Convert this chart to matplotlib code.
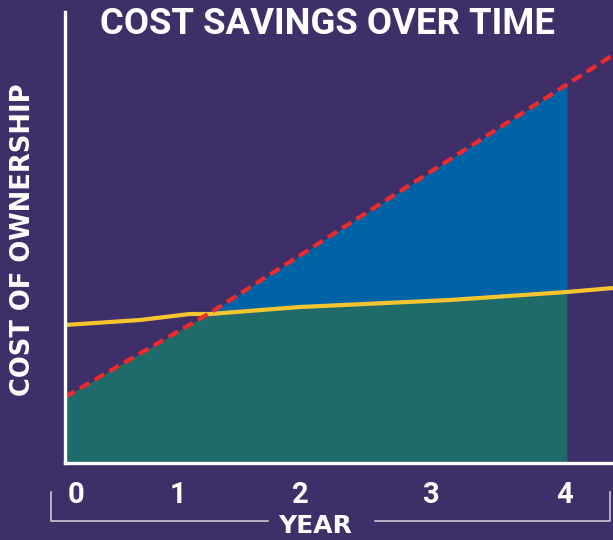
import numpy as np
import matplotlib
matplotlib.use("Agg")
import matplotlib.pyplot as plt
from matplotlib.lines import Line2D

# ---- data (arbitrary cost units) ----
red_years = [0.0, 1.155, 4.367]
red_cost = [0.66, 1.50, 4.08]
yellow_years = [0.0, 0.598, 0.996, 1.155, 1.873, 3.068, 4.0, 4.367]
yellow_cost = [1.38, 1.43, 1.49, 1.49, 1.56, 1.63, 1.71, 1.75]
fill_end_year = 4.0
tick_years = [0.084, 0.898, 1.879, 2.914, 3.98]
tick_labels = ["0", "1", "2", "3", "4"]

BG = "#3f2f68"
GREEN = "#1f6b6a"
BLUE = "#0063a6"
RED = "#ee2a2a"
YELLOW = "#f5c530"
FONT = "Roboto"

fig = plt.figure(figsize=(6.13, 5.40), dpi=100, facecolor=BG)
ax = fig.add_axes([65/613, 77/540, 1 - 65/613, (463 - 12)/540])
ax.set_facecolor(BG)

grid = np.linspace(0, fill_end_year, 800)
r = np.interp(grid, red_years, red_cost)
y = np.interp(grid, yellow_years, yellow_cost)
low = np.minimum(r, y)
ax.fill_between(grid, 0, low, color=GREEN, lw=0)
ax.fill_between(grid, y, r, where=r > y, interpolate=True, color=BLUE, lw=0)

ax.plot(yellow_years, yellow_cost, color=YELLOW, lw=3, solid_capstyle="butt")
ax.plot(red_years, red_cost, color=RED, lw=3, dashes=(2.65, 1.45), dash_capstyle="butt")

ax.set_xlim(0, 4.367)
ax.set_ylim(0, 4.51)
ax.set_yticks([])
ax.set_xticks(tick_years)
ax.set_xticklabels(tick_labels, fontfamily=FONT, fontweight="bold", fontsize=21, color="white")
ax.tick_params(axis="x", length=0, pad=13)
for s in ["top", "right"]:
    ax.spines[s].set_visible(False)
for s in ["left", "bottom"]:
    ax.spines[s].set_color("white")
    ax.spines[s].set_linewidth(2.4)

# title and labels
fig.text(328/613, 1 - 24/540, "COST SAVINGS OVER TIME", ha="center", va="center",
         color="white", fontfamily=FONT, fontweight="bold", fontsize=26.3)
fig.text(23/613, 1 - 240/540, "COST OF OWNERSHIP", ha="center", va="center", rotation=90,
         color="white", fontfamily="DejaVu Sans", fontweight="bold", fontsize=18.5)
fig.text(315/613, 1 - 526/540, "YEAR", ha="center", va="center",
         color="white", fontfamily="DejaVu Sans", fontweight="bold", fontsize=18)

# bracket below year ticks
lc = "#d8d8e0"
def fl(xs, ys):
    fig.add_artist(Line2D([v/613 for v in xs], [1 - v/540 for v in ys],
                          color=lc, lw=1.1, transform=fig.transFigure))
fl([51, 51, 268], [492, 521, 521])
fl([375, 610, 610], [521, 521, 492])

fig.savefig("out.png", dpi=100, facecolor=BG)
